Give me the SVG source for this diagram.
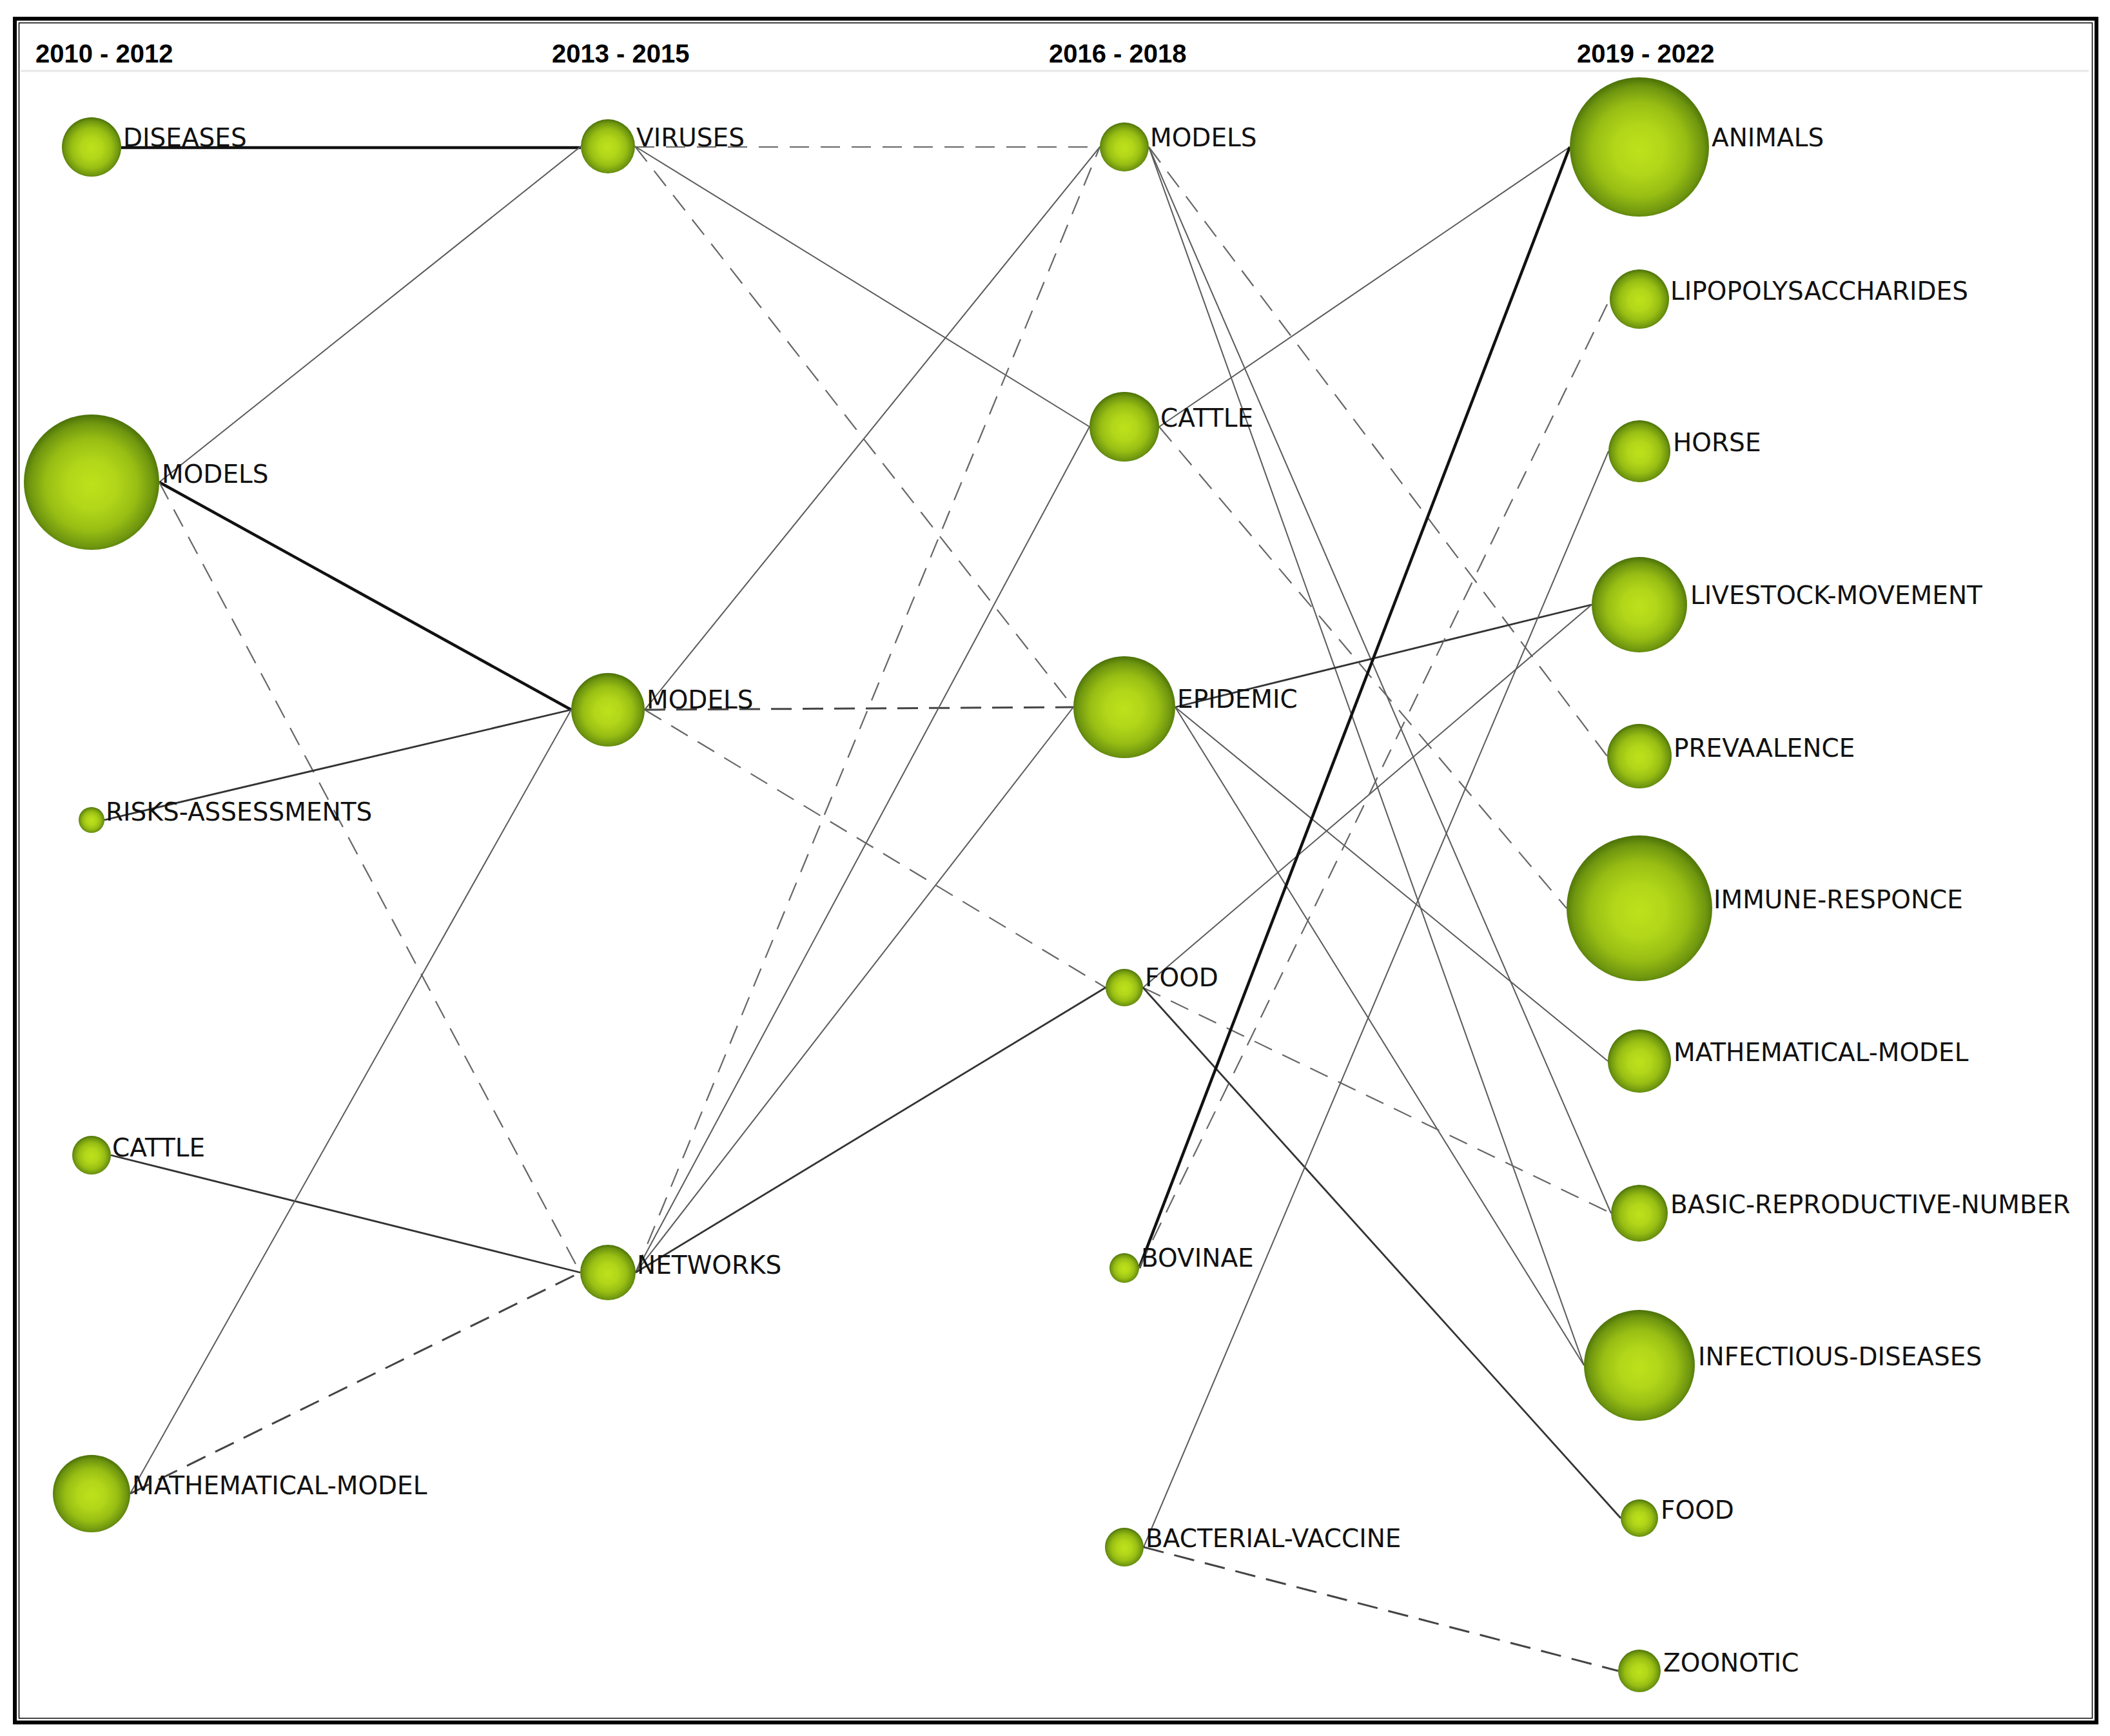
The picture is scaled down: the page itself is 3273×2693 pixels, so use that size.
<svg xmlns="http://www.w3.org/2000/svg" width="3273" height="2693" viewBox="0 0 3273 2693">
<style>
.hdr{font-family:"Liberation Sans",Arial,sans-serif;font-weight:bold;font-size:40px;fill:#000}
.lbl{font-family:"DejaVu Sans",Verdana,sans-serif;font-size:39px;fill:#111}
.thick{stroke:#111;stroke-width:4.5;fill:none}
.med{stroke:#333;stroke-width:2.8;fill:none}
.thin{stroke:#5a5a5a;stroke-width:2;fill:none}
.dash{stroke:#666;stroke-width:2.2;fill:none;stroke-dasharray:30 18}
.dashd{stroke:#444;stroke-width:3;fill:none;stroke-dasharray:32 17}
.node{fill:url(#g)}
</style>
<defs>
<radialGradient id="g" cx="50%" cy="52%" r="52%">
<stop offset="0" stop-color="#bde21b"/>
<stop offset="0.35" stop-color="#b2d619"/>
<stop offset="0.65" stop-color="#98be14"/>
<stop offset="0.88" stop-color="#6f960f"/>
<stop offset="1" stop-color="#4a7008"/>
</radialGradient>
</defs>
<rect x="0" y="0" width="3273" height="2693" fill="#fff"/>
<rect x="23" y="29" width="3229" height="2643" fill="none" stroke="#000" stroke-width="6"/>
<rect x="29.5" y="35.5" width="3216" height="2630" fill="none" stroke="#000" stroke-width="1.5"/>
<line x1="32" y1="110" x2="3240" y2="110" stroke="#e8e8e8" stroke-width="3"/>
<g id="headers">
<text class="hdr" x="55" y="97">2010 - 2012</text>
<text class="hdr" x="856" y="97">2013 - 2015</text>
<text class="hdr" x="1627" y="97">2016 - 2018</text>
<text class="hdr" x="2446" y="97">2019 - 2022</text>
</g>
<g id="connectors">
<line class="thick" x1="188" y1="229" x2="901" y2="229"/>
<line class="thin" x1="247" y1="748" x2="901" y2="227"/>
<line class="thick" x1="247" y1="748" x2="886" y2="1101"/>
<line class="dash" x1="247" y1="748" x2="900" y2="1974"/>
<line class="med" x1="162" y1="1272" x2="886" y2="1101"/>
<line class="med" x1="172" y1="1792" x2="900" y2="1974"/>
<line class="thin" x1="202" y1="2317" x2="886" y2="1101"/>
<line class="dashd" x1="202" y1="2317" x2="900" y2="1974"/>
<line class="dash" x1="985" y1="228" x2="1706" y2="228"/>
<line class="thin" x1="985" y1="227" x2="1690" y2="662"/>
<line class="dash" x1="985" y1="227" x2="1665" y2="1097"/>
<line class="thin" x1="1000" y1="1101" x2="1706" y2="228"/>
<line class="dashd" x1="1000" y1="1101" x2="1665" y2="1097"/>
<line class="dash" x1="1000" y1="1101" x2="1715" y2="1532"/>
<line class="dash" x1="986" y1="1974" x2="1706" y2="228"/>
<line class="thin" x1="986" y1="1974" x2="1690" y2="662"/>
<line class="thin" x1="986" y1="1974" x2="1665" y2="1097"/>
<line class="med" x1="986" y1="1974" x2="1715" y2="1532"/>
<line class="dash" x1="1782" y1="228" x2="2493" y2="1173"/>
<line class="thin" x1="1782" y1="228" x2="2499" y2="1882"/>
<line class="thin" x1="1782" y1="228" x2="2457" y2="2118"/>
<line class="thin" x1="1798" y1="662" x2="2435" y2="228"/>
<line class="dash" x1="1798" y1="662" x2="2430" y2="1409"/>
<line class="med" x1="1823" y1="1097" x2="2469" y2="938"/>
<line class="thin" x1="1823" y1="1097" x2="2494" y2="1646"/>
<line class="thin" x1="1823" y1="1097" x2="2457" y2="2118"/>
<line class="thin" x1="1773" y1="1532" x2="2469" y2="938"/>
<line class="dash" x1="1773" y1="1532" x2="2499" y2="1882"/>
<line class="med" x1="1773" y1="1532" x2="2514" y2="2355"/>
<line class="thick" x1="1767" y1="1967" x2="2435" y2="228"/>
<line class="dash" x1="1767" y1="1967" x2="2497" y2="464"/>
<line class="thin" x1="1774" y1="2400" x2="2495" y2="700"/>
<line class="dashd" x1="1774" y1="2400" x2="2510" y2="2592"/>
</g>
<g id="n1"><circle class="node" cx="142" cy="228" r="46"/><text class="lbl" x="191" y="227">DISEASES</text></g>
<g id="n2"><circle class="node" cx="142" cy="748" r="105"/><text class="lbl" x="251" y="749">MODELS</text></g>
<g id="n3"><circle class="node" cx="142" cy="1272" r="20"/><text class="lbl" x="164" y="1273">RISKS-ASSESSMENTS</text></g>
<g id="n4"><circle class="node" cx="142" cy="1792" r="30"/><text class="lbl" x="174" y="1794">CATTLE</text></g>
<g id="n5"><circle class="node" cx="142" cy="2317" r="60"/><text class="lbl" x="205" y="2318">MATHEMATICAL-MODEL</text></g>
<g id="n6"><circle class="node" cx="943" cy="227" r="42"/><text class="lbl" x="987" y="227">VIRUSES</text></g>
<g id="n7"><circle class="node" cx="943" cy="1101" r="57"/><text class="lbl" x="1003" y="1099">MODELS</text></g>
<g id="n8"><circle class="node" cx="943" cy="1974" r="43"/><text class="lbl" x="988" y="1976">NETWORKS</text></g>
<g id="n9"><circle class="node" cx="1744" cy="228" r="38"/><text class="lbl" x="1784" y="227">MODELS</text></g>
<g id="n10"><circle class="node" cx="1744" cy="662" r="54"/><text class="lbl" x="1800" y="662">CATTLE</text></g>
<g id="n11"><circle class="node" cx="1744" cy="1097" r="79"/><text class="lbl" x="1826" y="1098">EPIDEMIC</text></g>
<g id="n12"><circle class="node" cx="1744" cy="1532" r="29"/><text class="lbl" x="1776" y="1530">FOOD</text></g>
<g id="n13"><circle class="node" cx="1744" cy="1967" r="23"/><text class="lbl" x="1770" y="1965">BOVINAE</text></g>
<g id="n14"><circle class="node" cx="1744" cy="2400" r="30"/><text class="lbl" x="1777" y="2400">BACTERIAL-VACCINE</text></g>
<g id="n15"><circle class="node" cx="2543" cy="228" r="108"/><text class="lbl" x="2655" y="227">ANIMALS</text></g>
<g id="n16"><circle class="node" cx="2543" cy="464" r="46"/><text class="lbl" x="2591" y="465">LIPOPOLYSACCHARIDES</text></g>
<g id="n17"><circle class="node" cx="2543" cy="700" r="48"/><text class="lbl" x="2595" y="700">HORSE</text></g>
<g id="n18"><circle class="node" cx="2543" cy="938" r="74"/><text class="lbl" x="2622" y="937">LIVESTOCK-MOVEMENT</text></g>
<g id="n19"><circle class="node" cx="2543" cy="1173" r="50"/><text class="lbl" x="2596" y="1174">PREVAALENCE</text></g>
<g id="n20"><circle class="node" cx="2543" cy="1409" r="113"/><text class="lbl" x="2658" y="1409">IMMUNE-RESPONCE</text></g>
<g id="n21"><circle class="node" cx="2543" cy="1646" r="49"/><text class="lbl" x="2596" y="1646">MATHEMATICAL-MODEL</text></g>
<g id="n22"><circle class="node" cx="2543" cy="1882" r="44"/><text class="lbl" x="2591" y="1882">BASIC-REPRODUCTIVE-NUMBER</text></g>
<g id="n23"><circle class="node" cx="2543" cy="2118" r="86"/><text class="lbl" x="2634" y="2118">INFECTIOUS-DISEASES</text></g>
<g id="n24"><circle class="node" cx="2543" cy="2355" r="29"/><text class="lbl" x="2576" y="2356">FOOD</text></g>
<g id="n25"><circle class="node" cx="2543" cy="2592" r="33"/><text class="lbl" x="2580" y="2593">ZOONOTIC</text></g>
</svg>
